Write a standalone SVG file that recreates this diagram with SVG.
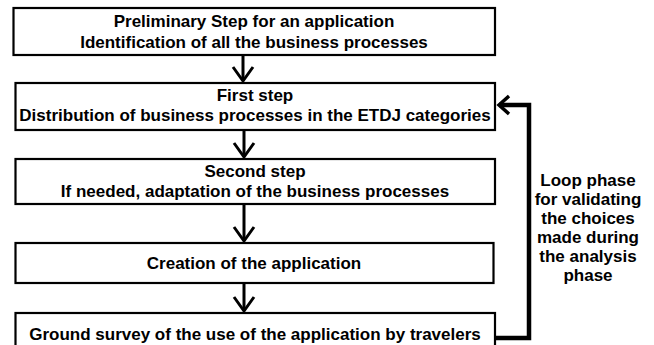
<svg xmlns="http://www.w3.org/2000/svg" width="654" height="345" viewBox="0 0 654 345">
  <style>
    .box { fill: #ffffff; stroke: #000000; stroke-width: 2.2; }
    .t { font-family: "Liberation Sans", Arial, sans-serif; font-weight: bold; font-size: 17px; fill: #000000; text-anchor: middle; }
    .conn { fill: none; stroke: #000000; stroke-width: 3; }
    .loop { fill: none; stroke: #000000; stroke-width: 4.5; }
  </style>
  <defs>
    <marker id="vee" markerUnits="userSpaceOnUse" viewBox="-16 -12 20 24" refX="0" refY="0" markerWidth="20" markerHeight="24" orient="auto">
      <path d="M -14,-10 L 0,0 L -14,10" fill="none" stroke="#000000" stroke-width="3"/>
    </marker>
    <marker id="vee2" markerUnits="userSpaceOnUse" viewBox="-14 -12 18 24" refX="0" refY="0" markerWidth="18" markerHeight="24" orient="auto">
      <path d="M -10,-9 L 0,0 L -10,9" fill="none" stroke="#000000" stroke-width="3.5"/>
    </marker>
  </defs>
  <rect width="654" height="345" fill="#ffffff"/>

  <g id="connectors">
    <line class="conn" x1="243" y1="55" x2="243" y2="81" marker-end="url(#vee)"/>
    <line class="conn" x1="244" y1="130" x2="244" y2="157" marker-end="url(#vee)"/>
    <line class="conn" x1="244" y1="204" x2="244" y2="241" marker-end="url(#vee)"/>
    <line class="conn" x1="244" y1="283" x2="244" y2="311" marker-end="url(#vee)"/>
    <polyline class="loop" points="495,338 529,338 529,105 499,105" marker-end="url(#vee2)"/>
  </g>

  <g id="node-preliminary">
    <rect class="box" x="13.5" y="8" width="481.5" height="47"/>
    <text class="t" x="254" y="27">Preliminary Step for an application</text>
    <text class="t" x="254" y="48">Identification of all the business processes</text>
  </g>

  <g id="node-first">
    <rect class="box" x="15.5" y="83" width="479.5" height="47"/>
    <text class="t" x="255" y="101">First step</text>
    <text class="t" x="255" y="121">Distribution of business processes in the ETDJ categories</text>
  </g>

  <g id="node-second">
    <rect class="box" x="15.5" y="159" width="479.5" height="45"/>
    <text class="t" x="255" y="177">Second step</text>
    <text class="t" x="255" y="197">If needed, adaptation of the business processes</text>
  </g>

  <g id="node-creation">
    <rect class="box" x="15.5" y="243" width="478" height="40"/>
    <text class="t" x="254" y="269">Creation of the application</text>
  </g>

  <g id="node-survey">
    <rect class="box" x="15.5" y="313" width="479.5" height="40"/>
    <text class="t" x="255" y="340">Ground survey of the use of the application by travelers</text>
  </g>

  <g id="loop-label">
    <text class="t" x="588" y="186">Loop phase</text>
    <text class="t" x="588" y="205">for validating</text>
    <text class="t" x="588" y="224">the choices</text>
    <text class="t" x="588" y="243">made during</text>
    <text class="t" x="588" y="262">the analysis</text>
    <text class="t" x="588" y="281">phase</text>
  </g>
</svg>
